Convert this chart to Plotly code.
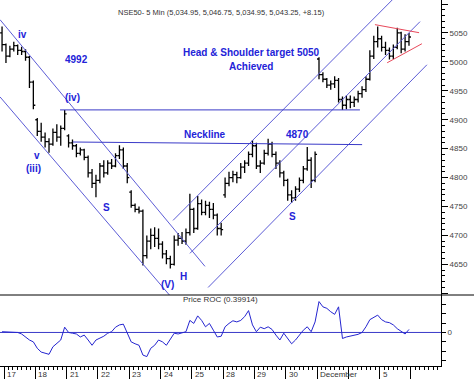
import plotly.graph_objects as go

# ---------------- data ----------------
day_labels = ['17', '18', '21', '22', '23', '24', '25', '28', '29', '30', 'December', '', '5']
bars_per_day = 8

opens = [5050,
         5030, 5010, 5022, 5028, 5020, 5018, 5008, 4965,
         4900, 4880, 4870, 4862, 4858, 4878, 4870, 4885,
         4872, 4860, 4855, 4842, 4848, 4835, 4808, 4790,
         4795, 4820, 4808, 4825, 4820, 4838, 4848, 4820,
         4775, 4752, 4745, 4742, 4665, 4690, 4700, 4695,
         4685, 4668, 4660, 4650, 4692, 4695, 4690, 4705,
         4745, 4712, 4755, 4740, 4752, 4745, 4735, 4712,
         4770, 4790, 4800, 4805, 4800, 4818, 4825, 4840,
         4855, 4820, 4825, 4842, 4858, 4840, 4825, 4808,
         4795, 4770, 4765, 4780, 4795, 4815, 4830, 4795,
         5005, 4978, 4970, 4960, 4962, 4968, 4935, 4925,
         4935, 4930, 4935, 4945, 4952, 4970, 5010, 5035,
         5040, 5025, 5020, 5010, 5025, 5050, 5022, 5035]
highs = [5061,
         5032, 5028, 5035, 5030, 5026, 5022, 5010, 4968,
         4903, 4895, 4878, 4868, 4885, 4892, 4890, 4917,
         4875, 4866, 4858, 4852, 4850, 4838, 4815, 4805,
         4825, 4830, 4830, 4832, 4842, 4856, 4852, 4825,
         4778, 4755, 4750, 4745, 4700, 4712, 4714, 4712,
         4690, 4675, 4665, 4700, 4704, 4706, 4712, 4772,
         4748, 4768, 4762, 4760, 4758, 4756, 4738, 4722,
         4800, 4810, 4812, 4810, 4825, 4830, 4845, 4865,
         4860, 4830, 4848, 4867, 4862, 4845, 4830, 4812,
         4798, 4778, 4785, 4800, 4820, 4853, 4835, 4845,
         5008, 4982, 4972, 4968, 4975, 4972, 4940, 4942,
         4942, 4940, 4950, 4958, 4975, 5020, 5045, 5061,
         5045, 5035, 5025, 5030, 5059, 5052, 5048, 5050]
lows = [5018,
        4998, 5008, 5018, 5012, 5012, 5002, 4955, 4918,
        4872, 4862, 4852, 4843, 4855, 4862, 4855, 4882,
        4852, 4848, 4835, 4838, 4830, 4800, 4782, 4766,
        4790, 4800, 4805, 4815, 4818, 4832, 4815, 4790,
        4748, 4740, 4738, 4648, 4660, 4676, 4680, 4676,
        4660, 4650, 4643, 4648, 4682, 4685, 4684, 4700,
        4704, 4710, 4735, 4735, 4730, 4728, 4700, 4700,
        4765, 4785, 4792, 4790, 4798, 4808, 4820, 4835,
        4815, 4808, 4822, 4838, 4835, 4815, 4800, 4785,
        4760, 4756, 4760, 4775, 4790, 4812, 4782, 4792,
        4970, 4965, 4955, 4952, 4955, 4930, 4917, 4918,
        4920, 4922, 4930, 4938, 4948, 4968, 5005, 5025,
        5018, 5012, 5004, 5005, 5022, 5015, 5018, 5028]
closes = [5030,
          5010, 5022, 5028, 5020, 5018, 5008, 4965, 4925,
          4880, 4870, 4862, 4858, 4878, 4870, 4885, 4910,
          4860, 4855, 4842, 4848, 4835, 4808, 4790, 4795,
          4820, 4808, 4825, 4820, 4838, 4848, 4820, 4800,
          4752, 4745, 4742, 4665, 4690, 4700, 4695, 4685,
          4668, 4660, 4650, 4692, 4695, 4690, 4705, 4745,
          4712, 4755, 4740, 4752, 4745, 4735, 4712, 4710,
          4790, 4800, 4805, 4800, 4818, 4825, 4840, 4855,
          4820, 4825, 4842, 4858, 4840, 4825, 4808, 4795,
          4770, 4765, 4780, 4795, 4815, 4830, 4795, 4840,
          4978, 4970, 4960, 4962, 4968, 4935, 4925, 4935,
          4930, 4935, 4945, 4952, 4970, 5010, 5035, 5040,
          5025, 5020, 5010, 5025, 5050, 5022, 5035, 5043]
roc = [0.1,
       0.1, 0, 0.05, 0, -0.2, -0.6, -1.0, -1.25,
       -2.1, -2.6, -2.8, -2.9, -1.9, -1.5, -1.0, 0.7,
       0, -0.1, -0.2, -0.6, -0.35, -1.0, -1.7, -1.0,
       -0.8, -0.5, -0.1, 0.1, 0.7, 1.0, 1.1, 0,
       -1.25, -1.5, -1.7, -3.0, -3.2, -2.1, -1.7, -1.0,
       -1.25, -1.7, -0.8, -0.1, -0.2, 0, 0.1, 1.6,
       1.2, 2.2, 1.6, 0.75, 1.2, 0.3, -0.6, -0.5,
       0.75, 1.2, 1.55, 1.4, 1.6, 2.1, 2.9, 1.0,
       0.1, 0.7, 0.5, 0.75, 0.4, -0.35, -1.0, -0.1,
       -0.8, -1.5, -1.0, -0.35, 0.3, 0.75, 0.1, 1.4,
       4.1, 3.4, 3.2, 2.75, 2.4, 3.4, -0.8, -0.6,
       -0.5, -0.35, -0.25, 0, 0.75, 1.7, 2.0, 2.3,
       1.7, 1.4, 1.3, 1.0, 0.5, 0.1, -0.2, 0.4]

# trend lines (x in trading-day units, y in price)
chan_down_upper = ([-0.128, 6.42], [5073, 4646.5])
chan_down_lower = ([-0.128, 5.30], [4939.5, 4596])
chan_up_1 = ([5.40, 12.40], [4726, 5107])
chan_up_2 = ([5.94, 13.29], [4669, 5069.6])
chan_up_3 = ([6.52, 13.51], [4610, 4995])
level_4917 = ([1.79, 11.37], [4917, 4917])
neckline = ([2.20, 11.44], [4861.5, 4857])
tri_upper = ([11.85, 13.26], [5064.4, 5050.5])
tri_lower = ([12.24, 13.35], [4998.5, 5031.4])

# labels: (text, x, price)
wave_labels = [
    ('iv', 0.575, 5047), ('4992', 2.30, 5005), ('(iv)', 2.20, 4938),
    ('v', 1.05, 4839), ('(iii)', 0.93, 4816.5), ('S', 3.26, 4749),
    ('(V)', 5.21, 4615), ('H', 5.72, 4629), ('Neckline', 6.42, 4874),
    ('4870', 9.39, 4874), ('S', 9.23, 4733),
    ('Head & Shoulder target 5050', 7.92, 5016), ('Achieved', 7.89, 4992),
]

price_ticks = [4600, 4650, 4700, 4750, 4800, 4850, 4900, 4950, 5000, 5050, 5100]
price_tick_text = ['', '4650', '4700', '4750', '4800', '4850', '4900', '4950', '5000', '5050', '']
roc_ticks = [-3.75, -2.5, -1.25, 0, 1.25, 2.5, 3.75]
roc_tick_text = ['', '', '', '0', '', '', '']

title_text = 'NSE50- 5 Min (5,034.95, 5,046.75, 5,034.95, 5,043.25, +8.15)'
roc_title = 'Price ROC (0.39914)'

# ---------------- figure ----------------
n_days = len(day_labels)
bar_x = [-1 + (bars_per_day - 0.5) / bars_per_day]
for d in range(n_days):
    for k in range(bars_per_day):
        bar_x.append(d + (k + 0.5) / bars_per_day)

XR = [-0.128, 13.96]
FONT = 'Liberation Sans, Arial, sans-serif'
LINE_C = '#5c5cd6'
HLINE_C = '#3a3ac8'
TXT_C = '#2323d8'

fig = go.Figure()

fig.add_trace(go.Ohlc(
    x=bar_x, open=opens, high=highs, low=lows, close=closes,
    increasing=dict(line=dict(color='black', width=1.3)),
    decreasing=dict(line=dict(color='black', width=1.3)),
    tickwidth=0.5, xaxis='x', yaxis='y', showlegend=False))

for (lx, ly), col in [(chan_down_upper, LINE_C), (chan_down_lower, LINE_C),
                      (chan_up_1, LINE_C), (chan_up_2, LINE_C), (chan_up_3, LINE_C),
                      (level_4917, HLINE_C), (neckline, HLINE_C),
                      (tri_upper, '#e8485a'), (tri_lower, '#e8485a')]:
    fig.add_trace(go.Scatter(x=lx, y=ly, mode='lines', line=dict(color=col, width=1),
                             xaxis='x', yaxis='y', showlegend=False, hoverinfo='skip'))

fig.add_trace(go.Scatter(x=XR, y=[0, 0], mode='lines', line=dict(color=HLINE_C, width=1),
                         xaxis='x2', yaxis='y2', showlegend=False, hoverinfo='skip'))
fig.add_trace(go.Scatter(x=bar_x, y=roc, mode='lines', line=dict(color='#2525d0', width=1),
                         xaxis='x2', yaxis='y2', showlegend=False))

for txt, tx, ty in wave_labels:
    fig.add_annotation(x=tx, y=ty, xref='x', yref='y', text='<b>%s</b>' % txt,
                       showarrow=False, font=dict(family=FONT, size=10, color=TXT_C))

for i, lab in enumerate(day_labels):
    if lab:
        fig.add_annotation(x=i, y=-0.022, xref='x2', yref='paper', text=lab,
                           xanchor='left', yanchor='middle', xshift=1, showarrow=False,
                           font=dict(family=FONT, size=8, color='#333'))

fig.add_annotation(x=0.503, y=0.984, xref='paper', yref='paper', text=title_text,
                   showarrow=False, font=dict(family=FONT, size=7.5, color='#333'))
fig.add_annotation(x=0.499, y=0.163, xref='paper', yref='paper', text=roc_title,
                   showarrow=False, font=dict(family=FONT, size=8, color='#333'))

split = 71 / 366
fig.add_shape(type='line', xref='paper', yref='paper', x0=0, x1=1.08, y0=split, y1=split,
              line=dict(color='black', width=1))

fig.update_layout(
    width=474, height=385, margin=dict(l=0, r=33, t=0, b=19),
    paper_bgcolor='white', plot_bgcolor='white', showlegend=False,
    font=dict(family=FONT, size=8, color='#333'),
    xaxis=dict(domain=[0, 1], range=XR, anchor='y', showticklabels=False, showgrid=False,
               zeroline=False, showline=False, ticks='', rangeslider=dict(visible=False)),
    yaxis=dict(domain=[split, 1], range=[4597, 5107], side='right', anchor='x',
               tickmode='array', tickvals=price_ticks, ticktext=price_tick_text,
               ticks='outside', ticklen=6, tickcolor='black', showline=True,
               linecolor='black', linewidth=1, showgrid=False, zeroline=False,
               minor=dict(dtick=10, ticklen=3, ticks='outside', tickcolor='black'),
               tickfont=dict(size=8, color='#444')),
    xaxis2=dict(domain=[0, 1], range=XR, anchor='y2', showticklabels=False, showgrid=False,
                zeroline=False, showline=True, linecolor='black', linewidth=1,
                tickmode='linear', tick0=0, dtick=1, ticks='outside', ticklen=12,
                tickcolor='black',
                minor=dict(dtick=1 / 7, ticklen=3, ticks='outside', tickcolor='black')),
    yaxis2=dict(domain=[0, split], range=[-4.45, 4.97], side='right', anchor='x2',
                tickmode='array', tickvals=roc_ticks, ticktext=roc_tick_text,
                ticks='outside', ticklen=4, tickcolor='black', showline=True,
                linecolor='black', linewidth=1, showgrid=False, zeroline=False,
                tickfont=dict(size=8, color='#444')),
)

fig.write_html('out.html', config={'displayModeBar': False},
               post_script="document.body.style.margin='0';document.body.style.overflow='hidden';")
